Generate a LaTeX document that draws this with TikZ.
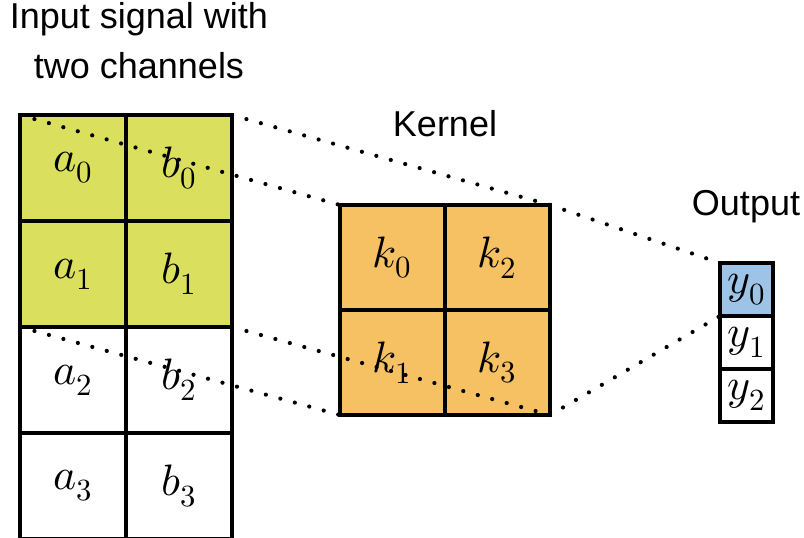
\documentclass[tikz,border=0pt]{standalone}
\usepackage{fontspec}
\usepackage{unicode-math}
\setsansfont{Liberation Sans}
\usetikzlibrary{positioning}
\definecolor{inputGreen}{RGB}{218, 223, 94}
\definecolor{kernelOrange}{RGB}{246, 193, 99}
\definecolor{outputBlue}{RGB}{157, 195, 230}
\tikzset{
  cell/.style={
    draw=black,
    line width=1.7pt,
    fill=white,
    outer sep=0pt,
    inner sep=0pt,
    minimum size=53pt,
    font=\fontsize{22}{22}\selectfont
  },
  incell/.style={cell, fill=inputGreen},
  kcell/.style={cell, fill=kernelOrange, minimum size=52.5pt},
  ycell/.style={cell, minimum size=26.5pt},
  title/.style={
    inner sep=0pt,
    font=\sffamily\fontsize{18}{25}\selectfont
  },
  link/.style={
    line width=2.1pt,
    line cap=round,
    dash pattern=on 0pt off 7.5pt
  }
}

\begin{document}
\begin{tikzpicture}[x=0.5pt, y=-0.5pt]
  \useasboundingbox (0,0) rectangle (804,537);

  % Input signal
  \node[incell, anchor=north west] (a0) at (20,115) {$a_0$};
  \node[incell, right=0pt of a0] (b0) {$b_0$};
  \node[incell, below=0pt of a0] (a1) {$a_1$};
  \node[incell, right=0pt of a1] (b1) {$b_1$};
  \node[cell, below=0pt of a1] (a2) {$a_2$};
  \node[cell, right=0pt of a2] (b2) {$b_2$};
  \node[cell, below=0pt of a2] (a3) {$a_3$};
  \node[cell, right=0pt of a3] (b3) {$b_3$};

  % Kernel
  \node[kcell, anchor=north west] (k0) at (340,205) {$k_0$};
  \node[kcell, right=0pt of k0] (k2) {$k_2$};
  \node[kcell, below=0pt of k0] (k1) {$k_1$};
  \node[kcell, right=0pt of k1] (k3) {$k_3$};

  % Output
  \node[ycell, fill=outputBlue, anchor=north west] (y0) at (720,263) {$y_0$};
  \node[ycell, below=0pt of y0] (y1) {$y_1$};
  \node[ycell, below=0pt of y1] (y2) {$y_2$};

  % Labels
  \node[title, align=center, anchor=north] (inlabel) at (139,2) {Input signal with\\two channels};
  \node[title, above=34pt of k0.north east] (klabel) {Kernel};
  \node[title, anchor=base] (ylabel) at (746,215) {Output};

  % Dotted connectors
  \draw[link] (a0.north west) -- (k0.north west);
  \draw[link] (b0.north east) -- (k2.north east);
  \draw[link] (a2.north west) -- (k1.south west);
  \draw[link] (b2.north east) -- (k3.south east);
  \draw[link] (k2.north east) -- (y0.north west);
  \draw[link] (k3.south east) -- (y1.north west);
\end{tikzpicture}
\end{document}
